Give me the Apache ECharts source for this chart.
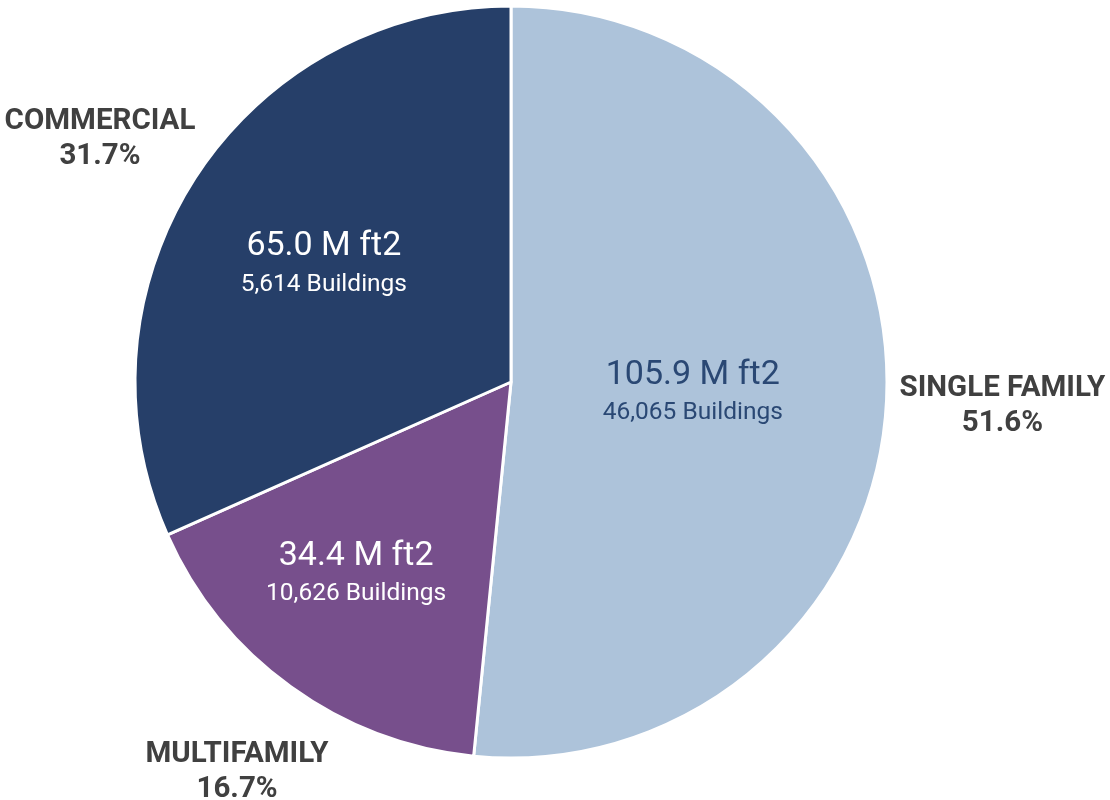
<!DOCTYPE html>
<html>
<head>
<meta charset="utf-8">
<script src="https://cdn.jsdelivr.net/npm/echarts@6/dist/echarts.min.js"></script>
<style>
  html, body { margin: 0; padding: 0; background: #fff; }
  #main { width: 1110px; height: 800px; }
</style>
</head>
<body>
<div id="main"></div>
<script>
// chart data
var categories = ['SINGLE FAMILY', 'MULTIFAMILY', 'COMMERCIAL'];
var areaValues = [105.9, 34.4, 65.0];       // M ft2
var buildingCounts = ['46,065', '10,626', '5,614'];
var shareLabels = ['51.6%', '16.7%', '31.7%'];
var sliceColors = ['#adc3da', '#774f8c', '#263f69'];
var innerTextColors = ['#2a4874', '#ffffff', '#ffffff'];
// nudges so the labels sit like the original
var innerOffsets = [[-9, 0], [-43, 36], [-27, -15]];
var outerOffsets = [[9, 0], [9, -1], [-6, 20]];

var myChart = echarts.init(document.getElementById('main'));

var innerData = categories.map(function (name, i) {
  return {
    name: name,
    value: areaValues[i],
    itemStyle: { color: sliceColors[i] },
    label: {
      offset: innerOffsets[i],
      rich: {
        big: { fontSize: 34, color: innerTextColors[i], fontFamily: 'Roboto', lineHeight: 43 },
        small: { fontSize: 24.5, color: innerTextColors[i], fontFamily: 'Roboto', lineHeight: 32 }
      }
    }
  };
});

var outerData = categories.map(function (name, i) {
  return { name: name, value: areaValues[i], label: { offset: outerOffsets[i] } };
});

var option = {
  animation: false,
  series: [
    {
      name: 'area',
      type: 'pie',
      center: [511, 382],
      radius: [0, 376],
      startAngle: 90,
      clockwise: true,
      silent: true,
      itemStyle: { borderColor: '#ffffff', borderWidth: 3 },
      label: {
        show: true,
        position: 'inside',
        formatter: function (p) {
          return '{big|' + p.value.toFixed(1) + ' M ft2}\n{small|' + buildingCounts[p.dataIndex] + ' Buildings}';
        }
      },
      labelLine: { show: false },
      data: innerData
    },
    {
      // invisible ring that only carries the category labels around the pie
      name: 'labels',
      type: 'pie',
      center: [511, 382],
      radius: [470, 490],
      startAngle: 90,
      clockwise: true,
      silent: true,
      itemStyle: { color: 'rgba(0,0,0,0)' },
      label: {
        show: true,
        position: 'inside',
        color: '#404040',
        fontFamily: 'Roboto',
        fontWeight: 'bold',
        fontSize: 29.5,
        lineHeight: 35,
        formatter: function (p) {
          return p.name + '\n' + shareLabels[p.dataIndex];
        }
      },
      labelLine: { show: false },
      data: outerData
    }
  ]
};

myChart.setOption(option);
</script>
</body>
</html>
